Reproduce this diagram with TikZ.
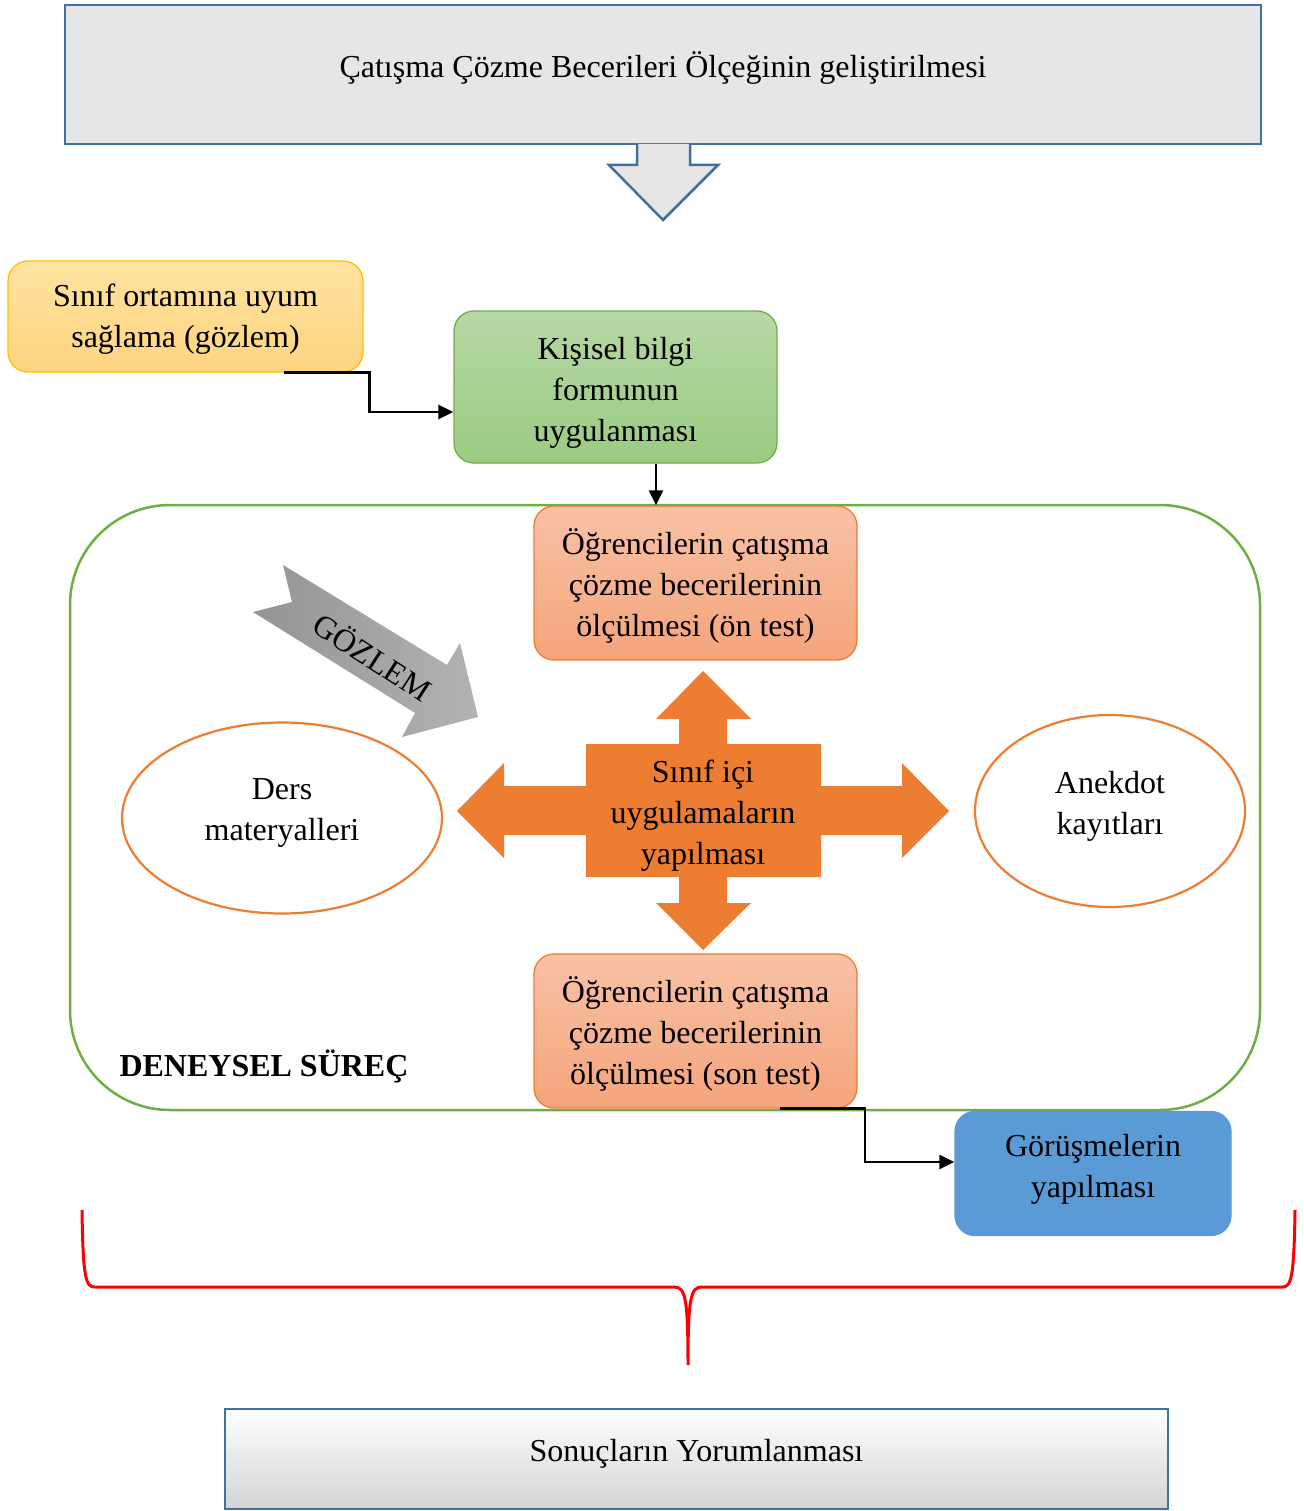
\documentclass[tikz,border=0pt]{standalone}
\usepackage{fontspec}
\setmainfont{Liberation Serif}
\usetikzlibrary{arrows.meta,shapes.geometric}

\definecolor{frameblue}{HTML}{41719C}
\definecolor{titlegrey}{HTML}{E7E6E6}
\definecolor{goldline}{HTML}{FFC000}
\definecolor{goldtop}{HTML}{FFE3A1}
\definecolor{goldbot}{HTML}{FFD47F}
\definecolor{leafline}{HTML}{70AD47}
\definecolor{leaftop}{HTML}{B5D8A5}
\definecolor{leafbot}{HTML}{9CCB82}
\definecolor{accent}{HTML}{ED7D31}
\definecolor{salmontop}{HTML}{F8C2A6}
\definecolor{salmonbot}{HTML}{F4A47B}
\definecolor{skyblue}{HTML}{5B9BD5}
\definecolor{bracered}{HTML}{FF0000}

\tikzset{
  txt/.style={font=\fontsize{32}{41}\selectfont, align=center, inner sep=0pt, text=black},
  plainbox/.style={rectangle, inner sep=0pt, line width=2.5pt, draw=frameblue},
  softbox/.style={rectangle, rounded corners=20pt, inner sep=0pt, line width=1.3pt},
  goldbox/.style={softbox, draw=goldline, top color=goldtop, bottom color=goldbot},
  leafbox/.style={softbox, draw=leafline, top color=leaftop, bottom color=leafbot},
  salmonbox/.style={softbox, draw=accent, top color=salmontop, bottom color=salmonbot},
  skybox/.style={softbox, draw=skyblue, fill=skyblue},
  oval/.style={ellipse, inner sep=0pt, draw=accent, line width=2.2pt, fill=white},
  conn/.style={line width=2.6pt, draw=black, -{Triangle[length=15pt,width=14pt]}},
}

\begin{document}
\begin{tikzpicture}[x=1pt,y=-1pt]
\useasboundingbox (0,0) rectangle (1303,1511);

% title box and its hollow down arrow
\node[plainbox, fill=titlegrey, minimum width=1196pt, minimum height=139pt,
      label={[txt, yshift=7pt]center:Çatışma Çözme Becerileri Ölçeğinin geliştirilmesi}]
      (title) at (663,74.5) {};
\filldraw[line width=2.5pt, draw=frameblue, fill=titlegrey, line join=miter]
  (637,144) -- (637,165) -- (609,165) -- (663,220) -- (718,165) -- (690,165) -- (690,144);

% preparation steps
\node[goldbox, minimum width=355pt, minimum height=111pt,
      label={[txt, yshift=-3pt]center:Sınıf ortamına uyum\\sağlama (gözlem)}]
      (adapt) at (185.5,316.5) {};
\node[leafbox, minimum width=323pt, minimum height=152pt,
      label={[txt, yshift=-5.5pt]center:Kişisel bilgi\\formunun\\uygulanması}]
      (form) at (615.5,387) {};

% experimental process frame
\node[rectangle, rounded corners=100pt, draw=leafline, line width=2.5pt,
      minimum width=1190pt, minimum height=605pt, inner sep=0pt]
      (frame) at (665,807.5) {};
\node[txt, font=\fontsize{32}{41}\selectfont\bfseries] (framelabel) at (264,1066) {DENEYSEL SÜREÇ};

\node[salmonbox, minimum width=323pt, minimum height=154pt,
      label={[txt, yshift=-3pt]center:Öğrencilerin çatışma\\çözme becerilerinin\\ölçülmesi (ön test)}]
      (pre) at (695.5,583) {};
\node[salmonbox, minimum width=323pt, minimum height=154pt,
      label={[txt, yshift=-3pt]center:Öğrencilerin çatışma\\çözme becerilerinin\\ölçülmesi (son test)}]
      (post) at (695.5,1031) {};

\node[oval, minimum width=320pt, minimum height=191pt,
      label={[txt, yshift=5pt]center:Ders\\materyalleri}] (material) at (282,818) {};
\node[oval, minimum width=270pt, minimum height=192pt,
      label={[txt, yshift=5pt]center:Anekdot\\kayıtları}] (anecdote) at (1110,811) {};

% four-way arrow around the classroom activities
\fill[accent]
  (586,744) -- (679,744) -- (679,719) -- (656,719) -- (703,671) -- (751,719) -- (727,719) -- (727,744)
  -- (821,744) -- (821,786) -- (902,786) -- (902,763) -- (949,811) -- (902,858) -- (902,835) -- (821,835)
  -- (821,877) -- (727,877) -- (727,903) -- (751,903) -- (703,950) -- (656,903) -- (679,903) -- (679,877)
  -- (586,877) -- (586,835) -- (504,835) -- (504,858) -- (457,811) -- (504,763) -- (504,786) -- (586,786)
  -- cycle;
\node[txt] (activity) at (703,816) {Sınıf içi\\uygulamaların\\yapılması};

% observation arrow
\shade[left color=black!42, right color=black!30]
  (283,565) -- (447,665) -- (460,643) -- (478,717) -- (402,737) -- (415,713) -- (253,612) -- (292,602) -- cycle;
\node[txt, rotate=-33] (observe) at (373,656) {GÖZLEM};

% interviews
\node[skybox, minimum width=276pt, minimum height=124pt,
      label={[txt, yshift=4.5pt]center:Görüşmelerin\\yapılması}] (interview) at (1093,1173.5) {};

% connectors
\coordinate (forminto) at ([yshift=-25pt]form.west);
\draw[conn] ([xshift=-80pt]adapt.south east) -- ++(86,0) |- (forminto);
\coordinate (formout) at ([xshift=40.5pt]form.south);
\draw[conn] (formout) -- (formout |- pre.north);
\coordinate (postout) at ([xshift=84.5pt]post.south);
\coordinate (interviewin) at ([yshift=11.5pt]interview.west);
\draw[conn] (postout) -- ++(85,0) |- (interviewin);

% brace gathering all results
\draw[bracered, line width=3pt]
  (82,1210) .. controls (83,1280) and (86,1287) .. (95,1287) -- (674,1287)
  .. controls (685,1287) and (688,1296) .. (688,1365)
  .. controls (688,1296) and (691,1287) .. (702,1287) -- (1282,1287)
  .. controls (1291,1287) and (1294,1280) .. (1295,1210);

% final step
\node[plainbox, minimum width=943pt, minimum height=100pt,
      top color=white, middle color=white, bottom color=black!17,
      label={[txt, yshift=5.5pt]center:Sonuçların Yorumlanması}]
      (results) at (696.5,1459) {};
\end{tikzpicture}
\end{document}
